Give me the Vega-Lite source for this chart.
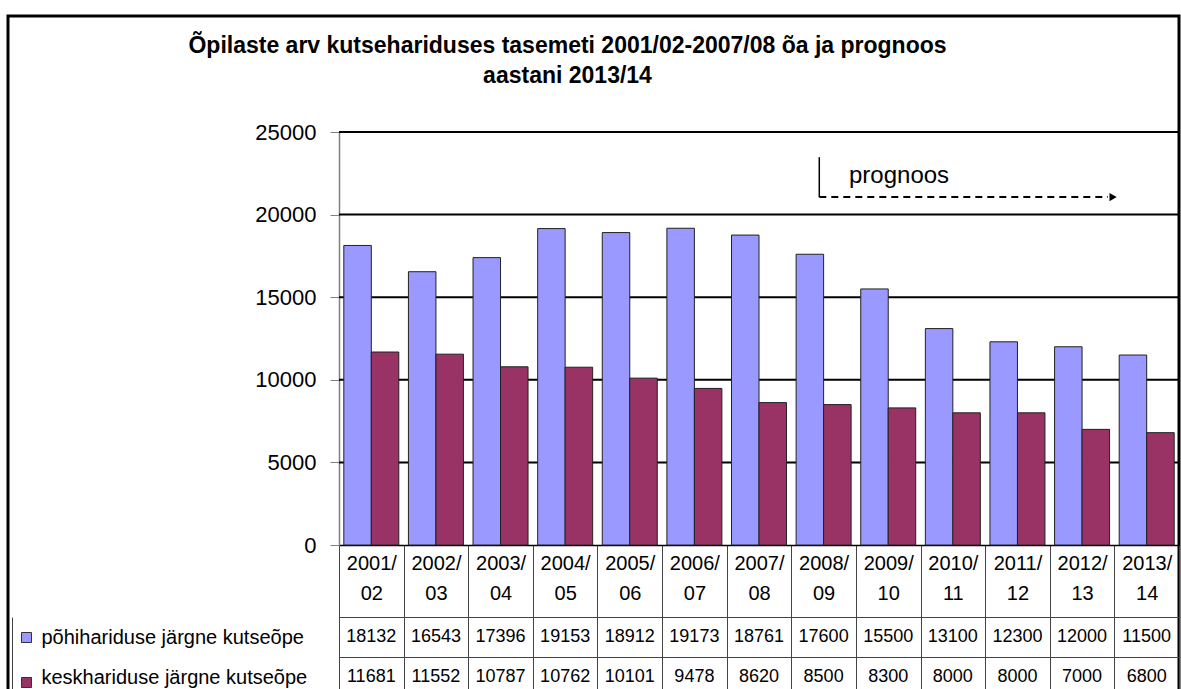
{
  "$schema": "https://vega.github.io/schema/vega-lite/v6.json",
  "width": 1171,
  "height": 675,
  "autosize": {"type": "none"},
  "padding": {"left": 8, "top": 16, "right": 2, "bottom": -2},
  "background": "white",
  "title": {
    "text": ["Õpilaste arv kutsehariduses tasemeti 2001/02-2007/08 õa ja prognoos", "aastani 2013/14"],
    "anchor": "middle",
    "frame": "group",
    "font": "Liberation Sans",
    "fontSize": 23,
    "fontWeight": "bold",
    "color": "#000",
    "lineHeight": 30,
    "offset": -82,
    "dx": -26
  },
  "datasets": {
    "rows": [
      {"year": "2001/02", "series": "põhihariduse järgne kutseõpe", "value": 18132},
      {"year": "2001/02", "series": "keskhariduse järgne kutseõpe", "value": 11681},
      {"year": "2002/03", "series": "põhihariduse järgne kutseõpe", "value": 16543},
      {"year": "2002/03", "series": "keskhariduse järgne kutseõpe", "value": 11552},
      {"year": "2003/04", "series": "põhihariduse järgne kutseõpe", "value": 17396},
      {"year": "2003/04", "series": "keskhariduse järgne kutseõpe", "value": 10787},
      {"year": "2004/05", "series": "põhihariduse järgne kutseõpe", "value": 19153},
      {"year": "2004/05", "series": "keskhariduse järgne kutseõpe", "value": 10762},
      {"year": "2005/06", "series": "põhihariduse järgne kutseõpe", "value": 18912},
      {"year": "2005/06", "series": "keskhariduse järgne kutseõpe", "value": 10101},
      {"year": "2006/07", "series": "põhihariduse järgne kutseõpe", "value": 19173},
      {"year": "2006/07", "series": "keskhariduse järgne kutseõpe", "value": 9478},
      {"year": "2007/08", "series": "põhihariduse järgne kutseõpe", "value": 18761},
      {"year": "2007/08", "series": "keskhariduse järgne kutseõpe", "value": 8620},
      {"year": "2008/09", "series": "põhihariduse järgne kutseõpe", "value": 17600},
      {"year": "2008/09", "series": "keskhariduse järgne kutseõpe", "value": 8500},
      {"year": "2009/10", "series": "põhihariduse järgne kutseõpe", "value": 15500},
      {"year": "2009/10", "series": "keskhariduse järgne kutseõpe", "value": 8300},
      {"year": "2010/11", "series": "põhihariduse järgne kutseõpe", "value": 13100},
      {"year": "2010/11", "series": "keskhariduse järgne kutseõpe", "value": 8000},
      {"year": "2011/12", "series": "põhihariduse järgne kutseõpe", "value": 12300},
      {"year": "2011/12", "series": "keskhariduse järgne kutseõpe", "value": 8000},
      {"year": "2012/13", "series": "põhihariduse järgne kutseõpe", "value": 12000},
      {"year": "2012/13", "series": "keskhariduse järgne kutseõpe", "value": 7000},
      {"year": "2013/14", "series": "põhihariduse järgne kutseõpe", "value": 11500},
      {"year": "2013/14", "series": "keskhariduse järgne kutseõpe", "value": 6800}
    ],
    "grid": [{"g": 5000}, {"g": 10000}, {"g": 15000}, {"g": 20000}, {"g": 25000}],
    "note": [
      {"part": "v", "x": 7.433, "y": 23476, "y2": 21058},
      {"part": "h", "x": 7.433, "x2": 11.9, "y": 21058},
      {"part": "arrow", "x": 11.98, "y": 21058},
      {"part": "label", "x": 7.893, "y": 21930, "label": "prognoos"}
    ]
  },
  "layer": [
    {
      "data": {"name": "grid"},
      "mark": {"type": "rule", "color": "#000", "strokeWidth": 2},
      "encoding": {
        "x": {"datum": 0, "type": "quantitative", "scale": {"domain": [0, 13], "range": [331, 1171]}, "axis": null},
        "x2": {"datum": 13},
        "y": {"field": "g", "type": "quantitative", "scale": {"domain": [0, 25000], "range": [529, 116], "nice": false}, "axis": null}
      }
    },
    {
      "data": {"name": "rows"},
      "mark": {"type": "bar", "stroke": "#222", "strokeWidth": 1},
      "encoding": {
        "x": {
          "field": "year", "type": "nominal", "sort": null,
          "scale": {"type": "band", "range": [331, 1171], "paddingInner": 0, "paddingOuter": 0},
          "axis": {
            "orient": "bottom", "offset": -146, "title": null,
            "domainColor": "#000", "domainWidth": 1.5,
            "tickBand": "extent", "tickSize": 150, "tickColor": "#444", "tickWidth": 1,
            "labelExpr": "[slice(datum.label, 0, 5), slice(datum.label, 5)]",
            "labelAngle": 0, "labelFontSize": 20, "labelLineHeight": 30, "labelBaseline": "top",
            "labelPadding": -142, "labelColor": "#000", "labelOverlap": false, "labelFlush": false, "labelFont": "Liberation Sans"
          }
        },
        "xOffset": {
          "field": "series", "type": "nominal",
          "scale": {"domain": ["põhihariduse järgne kutseõpe", "keskhariduse järgne kutseõpe"], "paddingInner": 0, "paddingOuter": 0.175}
        },
        "y": {
          "field": "value", "type": "quantitative",
          "scale": {"domain": [0, 25000], "range": [529, 116], "nice": false},
          "axis": {
            "orient": "left", "offset": -331, "title": null, "format": "d",
            "values": [0, 5000, 10000, 15000, 20000, 25000],
            "grid": false, "domainColor": "#808080", "domainWidth": 1.5,
            "tickSize": 9, "tickColor": "#808080", "tickWidth": 1,
            "labelFontSize": 22, "labelPadding": 14, "labelColor": "#000", "labelFont": "Liberation Sans"
          }
        },
        "color": {
          "field": "series", "type": "nominal",
          "scale": {"domain": ["põhihariduse järgne kutseõpe", "keskhariduse järgne kutseõpe"], "range": ["#9999FF", "#993366"]},
          "legend": {
            "orient": "none", "legendX": 13, "legendY": 616, "title": null,
            "symbolType": "square", "symbolSize": 100, "symbolStrokeColor": "#333", "symbolStrokeWidth": 1,
            "symbolOpacity": 1, "labelExpr": "''", "labelFontSize": 10, "rowPadding": 30, "padding": 0, "direction": "vertical"
          }
        }
      }
    },
    {
      "data": {"name": "rows"},
      "mark": {"type": "text", "fontSize": 18, "color": "#000", "font": "Liberation Sans"},
      "encoding": {
        "x": {
          "field": "year", "type": "nominal", "sort": null,
          "scale": {"type": "band", "range": [331, 1171], "paddingInner": 0, "paddingOuter": 0},
          "axis": null
        },
        "y": {
          "field": "series", "type": "nominal",
          "scale": {"type": "band", "domain": ["põhihariduse järgne kutseõpe", "keskhariduse järgne kutseõpe"], "range": [601, 681], "paddingInner": 0, "paddingOuter": 0},
          "axis": {
            "orient": "left", "offset": -4, "title": null,
            "domainColor": "#444", "domainWidth": 1,
            "ticks": true, "tickSize": 0,
            "labelAlign": "left", "labelPadding": -29, "labelFontSize": 20, "labelColor": "#000", "labelBaseline": "middle",
            "labelLimit": 400, "labelFont": "Liberation Sans",
            "grid": true, "tickBand": "extent", "gridColor": "#444", "gridWidth": 1
          }
        },
        "text": {"field": "value", "type": "quantitative", "format": "d"}
      }
    },
    {
      "data": {"name": "note"},
      "transform": [{"filter": "datum.part == 'v'"}],
      "mark": {"type": "rule", "color": "#000", "strokeWidth": 1.5},
      "encoding": {
        "x": {"field": "x", "type": "quantitative", "scale": {"domain": [0, 13], "range": [331, 1171]}, "axis": null},
        "y": {"field": "y", "type": "quantitative", "scale": {"domain": [0, 25000], "range": [529, 116], "nice": false}, "axis": null},
        "y2": {"field": "y2"}
      }
    },
    {
      "data": {"name": "note"},
      "transform": [{"filter": "datum.part == 'h'"}],
      "mark": {"type": "rule", "color": "#000", "strokeWidth": 2, "strokeDash": [7, 5]},
      "encoding": {
        "x": {"field": "x", "type": "quantitative", "scale": {"domain": [0, 13], "range": [331, 1171]}, "axis": null},
        "x2": {"field": "x2"},
        "y": {"field": "y", "type": "quantitative", "scale": {"domain": [0, 25000], "range": [529, 116], "nice": false}, "axis": null}
      }
    },
    {
      "data": {"name": "note"},
      "transform": [{"filter": "datum.part == 'arrow'"}],
      "mark": {"type": "point", "shape": "triangle-right", "filled": true, "color": "#000", "size": 70, "opacity": 1},
      "encoding": {
        "x": {"field": "x", "type": "quantitative", "scale": {"domain": [0, 13], "range": [331, 1171]}, "axis": null},
        "y": {"field": "y", "type": "quantitative", "scale": {"domain": [0, 25000], "range": [529, 116], "nice": false}, "axis": null}
      }
    },
    {
      "data": {"name": "note"},
      "transform": [{"filter": "datum.part == 'label'"}],
      "mark": {"type": "text", "fontSize": 24, "align": "left", "baseline": "alphabetic", "color": "#000", "font": "Liberation Sans"},
      "encoding": {
        "x": {"field": "x", "type": "quantitative", "scale": {"domain": [0, 13], "range": [331, 1171]}, "axis": null},
        "y": {"field": "y", "type": "quantitative", "scale": {"domain": [0, 25000], "range": [529, 116], "nice": false}, "axis": null},
        "text": {"field": "label"}
      }
    }
  ],
  "resolve": {"scale": {"x": "independent", "y": "independent", "color": "independent"}},
  "config": {
    "view": {"stroke": "#000", "strokeWidth": 3},
    "font": "Liberation Sans"
  }
}
